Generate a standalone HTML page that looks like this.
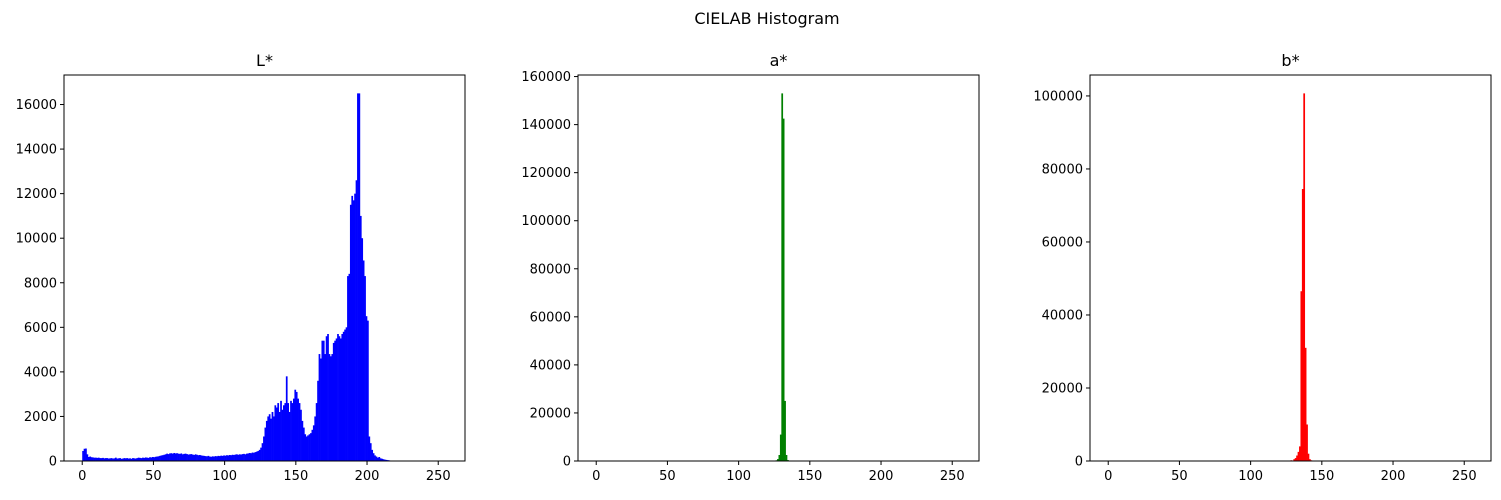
<!DOCTYPE html>
<html><head><meta charset="utf-8"><style>
body{margin:0;background:#fff;}
svg text{font-family:"DejaVu Sans","Liberation Sans",sans-serif;fill:#000;}
</style></head><body>
<svg id="fig" width="1501" height="495" xmlns="http://www.w3.org/2000/svg">
<text x="767" y="24" font-size="16" text-anchor="middle">CIELAB Histogram</text>
</svg>
<script>
const lValues=[450,550,560,300,180,200,170,160,150,150,
140,150,130,130,140,120,130,130,110,120,
130,110,120,150,110,120,130,100,110,130,
120,130,110,120,100,130,120,110,130,150,
140,130,150,140,160,150,140,170,160,180,
170,190,200,210,230,250,260,280,300,330,
310,340,350,330,360,340,350,330,320,340,
300,320,330,310,290,300,310,290,270,300,
280,260,270,250,240,230,220,210,230,200,
190,210,200,220,210,230,220,240,230,250,
240,260,250,270,260,280,270,290,300,280,
300,290,310,320,300,330,340,360,350,380,
370,400,420,450,500,600,800,1100,1500,1800,
2000,2100,1900,2200,2000,2500,2400,2600,2200,2700,
2300,2500,2600,3800,2600,2200,2700,2600,2800,3200,
3100,2800,2600,2300,1800,1500,1200,1100,1150,1200,
1250,1400,1600,2000,2600,3600,4800,4600,5400,5400,
4800,5600,5700,4800,4700,4800,5300,5400,5500,5700,
5600,5500,5700,5800,5900,6000,8300,8400,11500,11900,11700,
12000,12600,16500,16500,11000,10000,9000,8300,6500,6300,
1100,800,500,350,250,200,150,180,120,100,
80,60,50,40,30,20,15,10,5];
const aBins=[0,20,40,60,80,100,120,125,126,127,128,129,130,131,132,133,134,135,140,160,200,250];
const aCounts=[60,60,60,60,60,60,80,150,300,800,2500,11000,153000,142500,25000,2500,400,100,60,60,60,60];
const bBins=[0,50,100,125,128,130,131,132,133,134,135,136,137,138,139,140,141,142,143,150,200,250];
const bCounts=[60,60,60,80,200,500,800,1500,2500,4000,46500,74500,100700,31000,10000,2000,500,200,100,60,60,60];
const xTicks=[0,50,100,150,200,250];
const lTicks=[0,2000,4000,6000,8000,10000,12000,14000,16000];
const aTicks=[0,20000,40000,60000,80000,100000,120000,140000,160000];
const bTicks=[0,20000,40000,60000,80000,100000];
const titles=["L*","a*","b*"];

function toFull(bins,counts){const a=new Array(256).fill(0);bins.forEach((b,i)=>a[b]=counts[i]);return a;}
const series=[lValues.concat(new Array(256-lValues.length).fill(0)),toFull(aBins,aCounts),toFull(bBins,bCounts)];
const colors=["#0000ff","#008000","#ff0000"];
const ticksY=[lTicks,aTicks,bTicks];
const lefts=[64,578,1090];
const plotW=401,plotTop=75,plotBot=461;
const svgEl=document.getElementById('fig');
const NS="http://www.w3.org/2000/svg";
function mk(t,at){const e=document.createElementNS(NS,t);for(const k in at)e.setAttribute(k,at[k]);svgEl.appendChild(e);return e;}
series.forEach((vals,p)=>{
  const L=lefts[p];
  const maxV=Math.max(...vals)*1.05;
  const x=v=>L+(v+12.8)/281.6*plotW;
  const y=v=>plotBot-v/maxV*(plotBot-plotTop);
  const g=mk('g',{});
  
  
  vals.forEach((v,i)=>{ if(v<=0)return;
    const r=document.createElementNS(NS,'rect');
    r.setAttribute('x',x(i));r.setAttribute('width',x(i+1)-x(i)+0.3);
    r.setAttribute('y',y(v));r.setAttribute('height',plotBot-y(v));
    r.setAttribute('fill',colors[p]);
    
    
    g.appendChild(r);});
  const fr=mk('rect',{x:L,y:plotTop,width:plotW,height:plotBot-plotTop,fill:'none',stroke:'#000','stroke-width':1});
  
  
  const t=mk('text',{x:L+plotW/2,y:plotTop-9,'font-size':16,'text-anchor':'middle'});t.textContent=titles[p];
  
  
  xTicks.forEach(v=>{mk('line',{x1:x(v),x2:x(v),y1:plotBot,y2:plotBot+4,stroke:'#000'});
    const tt=mk('text',{x:x(v),y:plotBot+19,'font-size':13,'text-anchor':'middle'});tt.textContent=v;
    
    });
  ticksY[p].forEach(v=>{mk('line',{x1:L-4,x2:L,y1:y(v),y2:y(v),stroke:'#000'});
    const tt=mk('text',{x:L-7,y:y(v)+4.5,'font-size':13,'text-anchor':'end'});tt.textContent=v;
    
    });
});
</script>
</body></html>
